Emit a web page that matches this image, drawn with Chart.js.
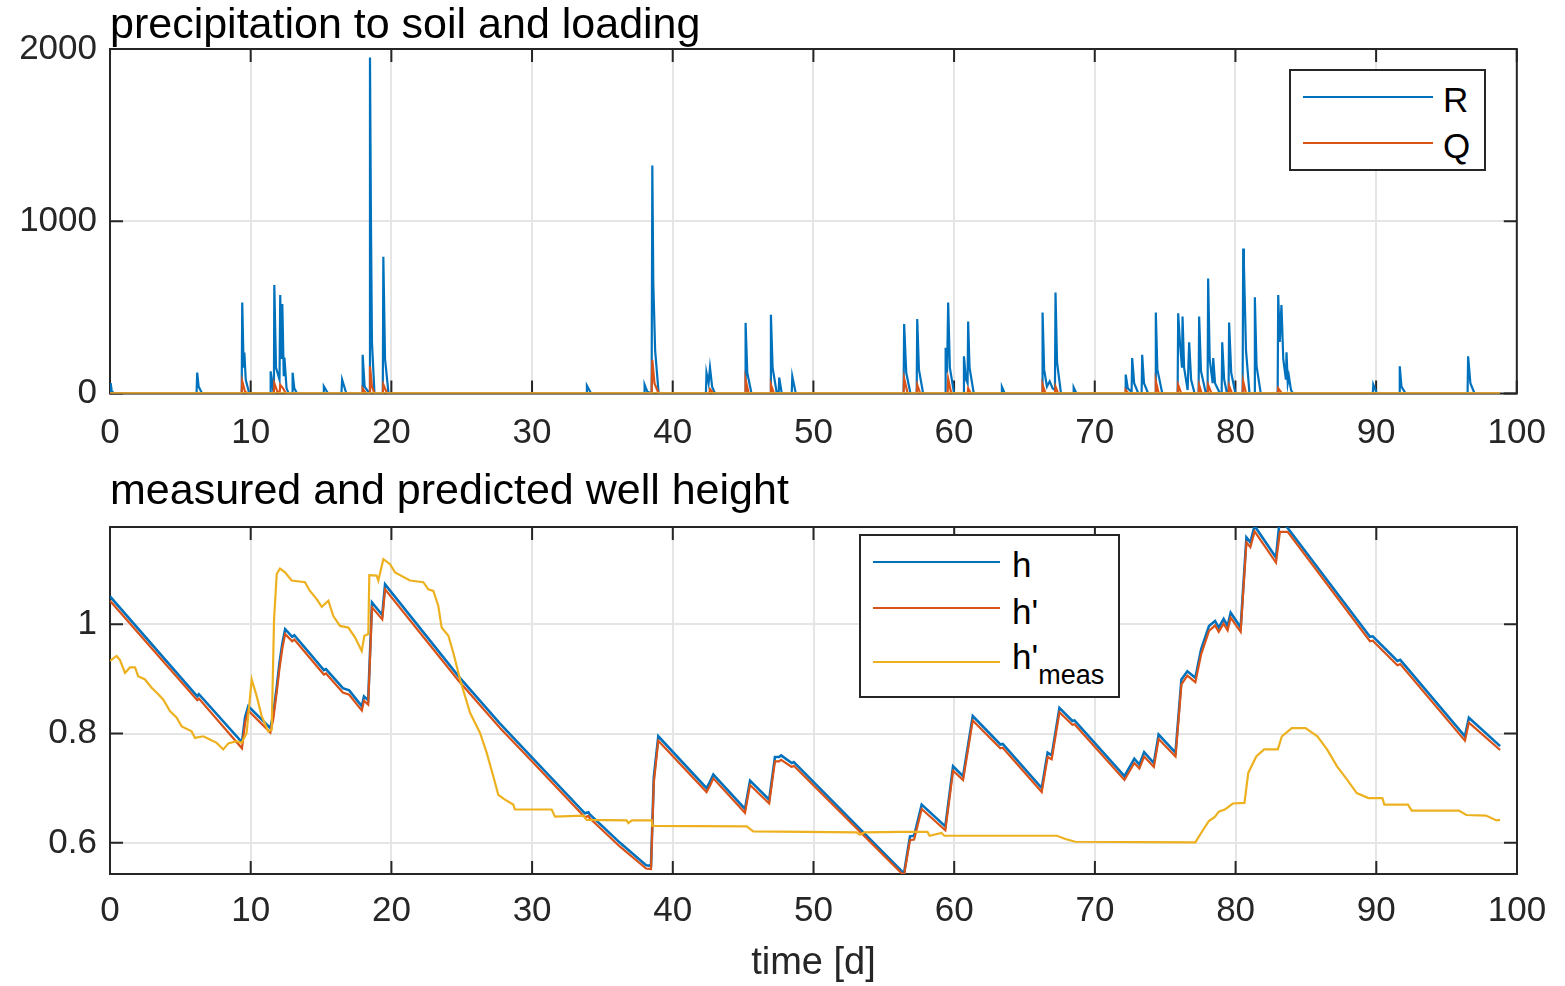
<!DOCTYPE html>
<html>
<head>
<meta charset="utf-8">
<script src="https://cdn.jsdelivr.net/npm/chart.js@4.4.1/dist/chart.umd.min.js"></script>
<style>
  body { margin: 0; background: #fff; }
  #wrap { position: relative; width: 1565px; height: 986px; font-family: 'Liberation Sans', Arial, sans-serif; color: #262626; }
  #top { position: absolute; left: 0; top: 0; }
  #bottom { position: absolute; left: 0; top: 460px; }
  .legend { position: absolute; background: #fff; border: 2px solid #262626; box-sizing: border-box; }
  .swatch { position: absolute; height: 2px; }
  .txt { position: absolute; font-size: 35px; line-height: 35px; white-space: nowrap; color: #000; }
  .txt span { position: relative; top: 15px; font-size: 27px; }
</style>
</head>
<body>
<div id="wrap">
  <canvas id="top" width="1565" height="460"></canvas>
  <canvas id="bottom" width="1565" height="526"></canvas>
</div>
<script>
// ticks
const xTicks = [0, 10, 20, 30, 40, 50, 60, 70, 80, 90, 100];
const rainTicks = [0, 1000, 2000];
const wellTicks = [0.6, 0.8, 1];

// precipitation to soil R (time in days, value)
const rDay = [
  0, 0.05, 0.12, 0.3,
  6.15, 6.2, 6.3, 6.55,
  9.36, 9.4, 9.5, 9.55, 9.65, 9.9,
  11.38, 11.42, 11.6, 11.65, 11.68, 11.8, 12.05, 12.1, 12.2, 12.25, 12.35, 12.4, 12.55, 12.7,
  12.95, 12.98, 13.1, 13.3,
  15.15, 15.2, 15.5,
  16.45, 16.5, 16.8,
  17.92, 17.96, 18.1, 18.44, 18.48, 18.55, 18.62, 18.8,
  19.39, 19.43, 19.55, 19.8,
  33.85, 33.9, 34.2,
  37.96, 38.0, 38.2, 38.5, 38.55, 38.62, 38.75, 39.0,
  42.36, 42.4, 42.55, 42.65, 42.8, 43.0,
  45.14, 45.18, 45.3, 45.6,
  46.94, 46.98, 47.1, 47.4, 47.53, 47.57, 47.75,
  48.46, 48.5, 48.75,
  56.41, 56.45, 56.6, 56.9,
  57.34, 57.38, 57.5, 57.8,
  59.36, 59.4, 59.5, 59.58, 59.7, 60.0,
  60.66, 60.7, 60.85, 60.96, 61.0, 61.1, 61.4,
  63.36, 63.4, 63.6,
  66.25, 66.29, 66.4, 66.6, 66.8, 67.0, 67.17, 67.21, 67.32, 67.6,
  68.46, 68.5, 68.7,
  72.16, 72.2, 72.35, 72.62, 72.66, 72.8, 73.1, 73.33, 73.37, 73.5, 73.8,
  74.3, 74.34, 74.45, 74.8,
  75.89, 75.93, 76.05, 76.2, 76.24, 76.35, 76.6, 76.71, 76.85, 77.1,
  77.38, 77.42, 77.55, 77.9,
  78.02, 78.06, 78.17, 78.38, 78.42, 78.55, 78.9,
  79.02, 79.06, 79.2, 79.4, 79.51, 79.55, 79.7, 80.0,
  80.51, 80.55, 80.6, 80.75, 81.0, 81.34, 81.38, 81.5, 81.8,
  83.0, 83.04, 83.15, 83.27, 83.4, 83.59, 83.63, 83.72, 83.8, 83.95, 84.1,
  89.76, 89.8, 90.05,
  91.64, 91.68, 91.8, 92.1,
  96.5, 96.54, 96.7, 97.0,
  98.8
];
const rRate = [
  0, 60, 15, 0,
  0, 121, 40, 0,
  0, 528, 150, 237, 80, 0,
  0, 129, 20, 0, 630, 150, 80, 572, 200, 520, 100, 208, 30, 0,
  0, 121, 30, 0,
  0, 42, 0,
  0, 81, 0,
  0, 225, 40, 0, 1950, 1000, 300, 0,
  0, 794, 200, 0,
  0, 46, 0,
  0, 52, 10, 0, 1324, 640, 250, 0,
  0, 121, 60, 150, 40, 0,
  0, 410, 120, 0,
  0, 457, 150, 0, 0, 92, 0,
  0, 100, 0,
  0, 403, 120, 0,
  0, 433, 140, 0,
  0, 266, 120, 528, 150, 0,
  0, 216, 80, 60, 418, 150, 0,
  0, 38, 0,
  0, 470, 140, 40, 71, 30, 20, 586, 180, 0,
  0, 35, 0,
  0, 110, 30, 10, 206, 60, 0, 0, 225, 60, 0,
  0, 470, 140, 0,
  0, 466, 300, 150, 447, 150, 20, 297, 80, 0,
  0, 447, 130, 0,
  0, 668, 200, 60, 206, 60, 0,
  0, 297, 80, 0, 0, 412, 120, 0,
  0, 842, 755, 250, 0, 0, 559, 160, 0,
  0, 572, 300, 514, 200, 80, 239, 60, 100, 20, 0,
  0, 52, 0,
  0, 158, 40, 0,
  0, 216, 60, 0,
  0
];

// loading Q
const qDay = [
  0,
  9.36, 9.4, 9.6, 9.8,
  11.64, 11.68, 11.9, 12.06, 12.1, 12.3, 12.5,
  17.92, 17.96, 18.2, 18.44, 18.48, 18.62, 18.8,
  19.39, 19.43, 19.7,
  38.5, 38.55, 38.7, 39.0,
  42.6, 42.65, 42.9,
  45.14, 45.18, 45.4,
  46.94, 46.98, 47.2,
  56.41, 56.45, 56.7,
  57.34, 57.38, 57.6,
  59.54, 59.58, 59.8,
  60.96, 61.0, 61.2,
  66.25, 66.29, 66.5,
  67.17, 67.21, 67.4,
  72.16, 72.2, 72.4,
  74.3, 74.34, 74.55,
  75.89, 75.93, 76.15,
  77.38, 77.42, 77.6,
  78.02, 78.06, 78.3,
  79.51, 79.55, 79.75,
  80.51, 80.55, 80.75,
  83.0, 83.04, 83.3,
  98.8
];
const qRate = [
  0,
  0, 71, 10, 0,
  0, 60, 10, 5, 50, 30, 0,
  0, 30, 0, 0, 158, 40, 0,
  0, 52, 0,
  0, 196, 60, 0,
  0, 25, 0,
  0, 80, 0,
  0, 52, 0,
  0, 87, 0,
  0, 50, 0,
  0, 85, 0,
  0, 30, 0,
  0, 52, 0,
  0, 40, 0,
  0, 20, 0,
  0, 71, 0,
  0, 50, 0,
  0, 50, 0,
  0, 50, 0,
  0, 45, 0,
  0, 71, 0,
  0, 30, 0,
  0
];

// third series of the top panel, flat at zero
const zeroDay = [0, 98.8];
const zeroRate = [0, 0];

// well height h and h'
const wellDay = [
  0, 6.2, 6.32, 9.38, 9.6, 9.83, 11.4, 11.6, 11.85, 12.05, 12.25, 12.45, 12.95, 13.1,
  15.2, 15.35, 16.55, 17.0, 17.9, 18.05, 18.35, 18.62, 19.35, 19.55,
  24.76, 27.72, 30.0, 33.75, 34.0, 34.1, 36.25, 38.1, 38.45, 38.65, 38.97,
  42.4, 42.65, 42.88, 45.13, 45.49, 46.85, 47.26, 47.55, 47.7, 48.45, 48.6,
  56.43, 56.86, 57.15, 57.69, 59.37, 59.92, 60.63, 61.32, 63.28, 63.45,
  66.22, 66.64, 66.93, 67.48, 68.4, 68.55, 72.1, 72.8, 73.16, 73.5, 74.19, 74.53,
  75.73, 76.15, 76.57, 77.14, 77.55, 78.11, 78.54, 78.8, 79.15, 79.43, 79.65, 80.36,
  80.77, 81.05, 81.35, 82.87, 83.15, 83.7, 89.55, 89.75, 91.5, 91.7, 96.3, 96.58, 98.8
];
const hVal = [
  1.051, 0.868, 0.872, 0.784, 0.83, 0.850, 0.810, 0.835, 0.885, 0.93, 0.965, 0.991, 0.977, 0.980,
  0.916, 0.918, 0.883, 0.879, 0.850, 0.868, 0.861, 1.040, 1.017, 1.073,
  0.905, 0.818, 0.756, 0.654, 0.656, 0.652, 0.600, 0.559, 0.558, 0.72, 0.795,
  0.700, 0.712, 0.725, 0.662, 0.714, 0.679, 0.757, 0.757, 0.760, 0.746, 0.748,
  0.544, 0.612, 0.613, 0.670, 0.630, 0.740, 0.722, 0.832, 0.780, 0.781,
  0.700, 0.765, 0.760, 0.847, 0.823, 0.824, 0.722, 0.754, 0.743, 0.766, 0.746, 0.798,
  0.765, 0.899, 0.914, 0.902, 0.954, 0.997, 1.006, 0.994, 1.010, 0.997, 1.021, 0.994,
  1.159, 1.150, 1.180, 1.122, 1.195, 1.176, 0.977, 0.978, 0.933, 0.935, 0.795, 0.829, 0.777
];
const hPrimeVal = [
  1.043, 0.861, 0.864, 0.773, 0.82, 0.842, 0.802, 0.826, 0.876, 0.92, 0.956, 0.982, 0.969, 0.972,
  0.908, 0.910, 0.875, 0.871, 0.842, 0.860, 0.853, 1.031, 1.009, 1.064,
  0.897, 0.810, 0.749, 0.647, 0.649, 0.645, 0.593, 0.553, 0.552, 0.71, 0.787,
  0.693, 0.705, 0.718, 0.655, 0.706, 0.672, 0.749, 0.749, 0.752, 0.739, 0.741,
  0.540, 0.605, 0.606, 0.662, 0.623, 0.732, 0.715, 0.824, 0.773, 0.774,
  0.693, 0.757, 0.753, 0.839, 0.816, 0.817, 0.715, 0.746, 0.736, 0.758, 0.739, 0.790,
  0.758, 0.890, 0.906, 0.894, 0.945, 0.988, 0.998, 0.986, 1.001, 0.989, 1.012, 0.986,
  1.150, 1.141, 1.170, 1.113, 1.169, 1.169, 0.969, 0.970, 0.925, 0.927, 0.787, 0.820, 0.770
];

// measured h'
const measDay = [
  0, 0.47, 0.7, 1.07, 1.42, 1.78, 2.0, 2.49, 2.96, 3.43, 3.79, 4.26, 4.74, 5.1, 5.8, 6.04,
  6.63, 7.1, 7.58, 8.05, 8.41, 9.0, 9.36, 9.71, 10.07, 10.43, 10.78, 11.25, 11.49, 11.66,
  11.85, 12.08, 12.44, 12.91, 13.86, 14.21, 14.69, 15.05, 15.52, 15.87, 16.35, 16.94,
  17.41, 17.89, 18.08, 18.36, 18.43, 18.95, 19.07, 19.43, 19.9, 20.26, 21.32, 22.27,
  22.62, 22.98, 23.33, 23.57, 24.05, 24.4, 24.88, 25.59, 26.3, 26.77, 27.24, 27.6,
  28.07, 28.66, 28.78, 31.39, 31.63, 33.64, 33.88, 36.72, 36.84, 37.1, 38.5, 38.55,
  45.25, 45.72, 53.07, 53.3, 53.6, 56.15, 58.1, 58.25, 59.1, 59.3, 67.3, 67.9, 68.6,
  77.14, 77.55, 78.1, 78.54, 78.8, 79.23, 79.8, 80.63, 80.9, 81.47, 82.03, 83.0, 83.29,
  83.99, 84.97, 85.81, 86.5, 87.21, 87.91, 88.61, 89.44, 90.43, 90.57, 92.25, 92.52,
  95.87, 96.4, 97.8, 98.54, 98.8
];
const measVal = [
  0.933, 0.942, 0.935, 0.911, 0.921, 0.921, 0.905, 0.899, 0.884, 0.872, 0.862, 0.841, 0.829, 0.813, 0.804, 0.792,
  0.795, 0.789, 0.783, 0.771, 0.782, 0.786, 0.783, 0.801, 0.899, 0.868, 0.832, 0.804, 0.807, 1.009,
  1.092, 1.102, 1.095, 1.080, 1.077, 1.061, 1.046, 1.032, 1.043, 1.015, 0.997, 0.994,
  0.976, 0.951, 0.979, 0.982, 1.090, 1.089, 1.080, 1.119, 1.110, 1.095, 1.080, 1.077,
  1.064, 1.061, 1.034, 0.994, 0.979, 0.948, 0.899, 0.838, 0.801, 0.765, 0.722, 0.688,
  0.679, 0.670, 0.661, 0.661, 0.648, 0.650, 0.642, 0.641, 0.636, 0.641, 0.641, 0.631,
  0.630, 0.621, 0.619, 0.615, 0.619, 0.620, 0.620, 0.613, 0.618, 0.613, 0.613, 0.607, 0.602,
  0.601, 0.618, 0.640, 0.648, 0.657, 0.661, 0.672, 0.673, 0.728, 0.758, 0.771, 0.771, 0.795,
  0.810, 0.810, 0.795, 0.771, 0.740, 0.716, 0.691, 0.682, 0.682, 0.670, 0.670, 0.659,
  0.659, 0.651, 0.650, 0.641, 0.642
];

const blue = '#0072BD';
const red = '#D95319';
const yellow = '#EDB120';
const axisColor = '#262626';
const fontFamily = "'Liberation Sans', Arial, sans-serif";
const tickFont = { family: fontFamily, size: 35, lineHeight: 1.2 };

Chart.defaults.font.family = fontFamily;

function pts(xs, ys) {
  return xs.map((x, i) => ({ x: x, y: ys[i] }));
}

function line(label, xs, ys, color, order, width) {
  return { label: label, data: pts(xs, ys), borderColor: color, borderWidth: width,
    pointRadius: 0, tension: 0, order: order };
}

// matlab style box with inward ticks on all four sides
const boxPlugin = {
  id: 'box',
  beforeDatasetsDraw(chart) {
    const { ctx, chartArea: a, scales } = chart;
    ctx.save();
    ctx.strokeStyle = axisColor;
    ctx.lineWidth = 2;
    ctx.beginPath();
    scales.x.ticks.forEach(t => {
      const px = scales.x.getPixelForValue(t.value);
      ctx.moveTo(px, a.bottom); ctx.lineTo(px, a.bottom - 13);
      ctx.moveTo(px, a.top); ctx.lineTo(px, a.top + 13);
    });
    scales.y.ticks.forEach(t => {
      const py = scales.y.getPixelForValue(t.value);
      ctx.moveTo(a.left, py); ctx.lineTo(a.left + 13, py);
      ctx.moveTo(a.right, py); ctx.lineTo(a.right - 13, py);
    });
    ctx.stroke();
    ctx.strokeRect(a.left, a.top, a.right - a.left, a.bottom - a.top);
    ctx.restore();
  }
};

function axes(yMin, yMax, yTicks, xPad, xHeight, xTitle) {
  return {
    x: {
      type: 'linear', min: 0, max: 100,
      afterBuildTicks: s => { s.ticks = xTicks.map(v => ({ value: v })); },
      afterFit: s => { s.height = xHeight; },
      grid: { color: '#e5e5e5', lineWidth: 2, drawTicks: false },
      border: { display: false },
      ticks: { font: tickFont, color: axisColor, padding: xPad, maxRotation: 0, autoSkip: false, callback: v => String(v) },
      title: xTitle
    },
    y: {
      min: yMin, max: yMax,
      afterBuildTicks: s => { s.ticks = yTicks.map(v => ({ value: v })); },
      afterFit: s => { s.width = 110; },
      grid: { color: '#e5e5e5', lineWidth: 2, drawTicks: false },
      border: { display: false },
      ticks: { font: tickFont, color: axisColor, padding: 13, callback: v => String(v) }
    }
  };
}

function titleOpts(text, padTop, padBottom) {
  return { display: true, text: text, align: 'start', fullSize: false, color: '#000',
    font: { size: 43, weight: 'normal', lineHeight: 1 }, padding: { top: padTop, bottom: padBottom } };
}

const topChart = new Chart(document.getElementById('top'), {
  type: 'line',
  data: {
    datasets: [
      line('R', rDay, rRate, blue, 3, 2.2),
      line('Q', qDay, qRate, red, 2, 2.2),
      line('', zeroDay, zeroRate, yellow, 1, 2.5)
    ]
  },
  options: {
    responsive: false, animation: false, devicePixelRatio: 1,
    layout: { padding: { left: 0, right: 48, top: 0, bottom: 0 } },
    plugins: {
      legend: { display: false }, tooltip: { enabled: false },
      title: titleOpts('precipitation to soil and loading', 5, 1)
    },
    scales: axes(0, 2000, rainTicks, 19, 66.5, { display: false })
  },
  plugins: [boxPlugin]
});

const bottomChart = new Chart(document.getElementById('bottom'), {
  type: 'line',
  data: {
    datasets: [
      line('h', wellDay, hVal, blue, 3, 2.6),
      line("h'", wellDay, hPrimeVal, red, 2, 2.2),
      line("h'_meas", measDay, measVal, yellow, 1, 2.2)
    ]
  },
  options: {
    responsive: false, animation: false, devicePixelRatio: 1,
    layout: { padding: { left: 0, right: 48, top: 0, bottom: 0 } },
    plugins: {
      legend: { display: false }, tooltip: { enabled: false },
      title: titleOpts('measured and predicted well height', 11, 13)
    },
    scales: axes(0.543, 1.178, wellTicks, 16, 112, {
      display: true, text: 'time [d]', color: axisColor,
      font: { size: 38, lineHeight: 1 }, padding: { top: 0, bottom: 3.5 }
    })
  },
  plugins: [boxPlugin]
});

// legends inside the axes, built from the dataset labels and colours
function addLegend(chart, count, box, lineX, textX, rowY, baseY) {
  const wrap = document.getElementById('wrap');
  const div = document.createElement('div');
  div.className = 'legend';
  div.style.left = box[0] + 'px';
  div.style.top = box[1] + 'px';
  div.style.width = box[2] + 'px';
  div.style.height = box[3] + 'px';
  wrap.appendChild(div);
  for (let i = 0; i < count; i++) {
    const ds = chart.data.datasets[i];
    const sw = document.createElement('div');
    sw.className = 'swatch';
    sw.style.background = ds.borderColor;
    sw.style.left = (lineX[0] - box[0] - 2) + 'px';
    sw.style.width = (lineX[1] - lineX[0]) + 'px';
    sw.style.top = (rowY[i] - box[1] - 3) + 'px';
    div.appendChild(sw);
    const parts = ds.label.split('_');
    const txt = document.createElement('div');
    txt.className = 'txt';
    txt.style.left = (textX - box[0] - 2) + 'px';
    txt.style.top = (baseY[i] - 29.6 - box[1] - 2) + 'px';
    txt.textContent = parts[0];
    if (parts[1]) {
      const sub = document.createElement('span');
      sub.textContent = parts[1];
      txt.appendChild(sub);
    }
    div.appendChild(txt);
  }
}

addLegend(topChart, 2, [1289, 69, 197, 102], [1303, 1433], 1443, [96.7, 142.7], [111.7, 157.5]);
addLegend(bottomChart, 3, [859, 534, 261, 164], [873, 1000], 1012, [561.7, 607.7, 661.7], [576.7, 623.3, 668.3]);
</script>
</body>
</html>
